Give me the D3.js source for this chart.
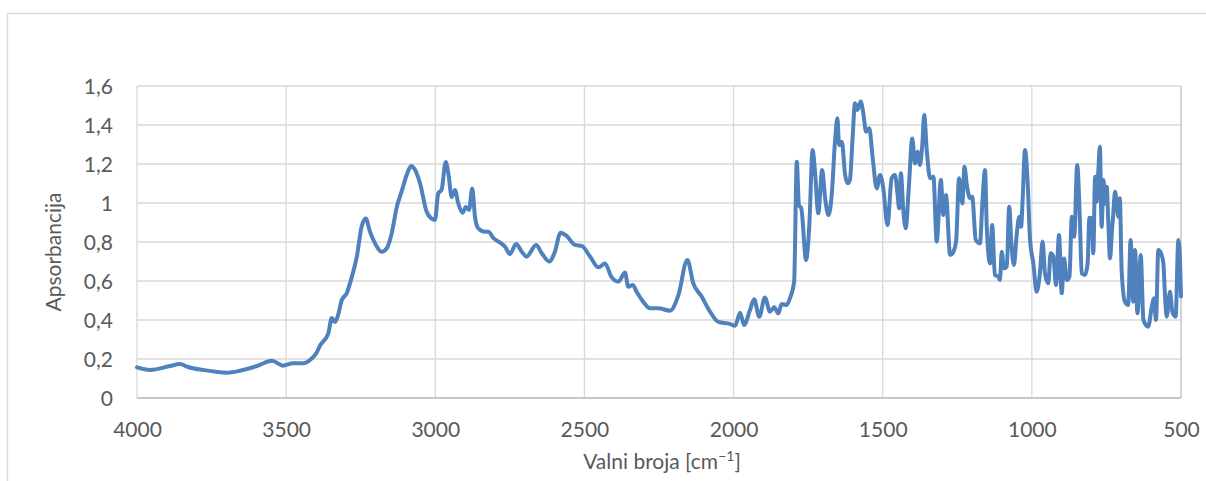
<!DOCTYPE html>
<html>
<head>
<meta charset="utf-8">
<script src="https://cdn.jsdelivr.net/npm/d3@7/dist/d3.min.js"></script>
<style>
  html, body { margin: 0; padding: 0; background: #fff; }
  svg { display: block; }
  text { font-family: Lato, "Open Sans", sans-serif; fill: #595959; }
</style>
</head>
<body>
<svg id="chart" width="1206" height="481"></svg>
<script>
// IR spectrum: wavenumber (cm-1) and absorbance
const wavenumbers = [
  4000, 3956, 3889, 3856, 3829, 3779, 3698, 3655, 3598, 3547, 3511, 3477, 3443, 3420, 3397, 3386,
  3359, 3347, 3336, 3325, 3314, 3297, 3280, 3263, 3247, 3233, 3219, 3202, 3180, 3163, 3146, 3129,
  3113, 3096, 3081, 3068, 3051, 3029, 3012, 3001, 2990, 2979, 2965, 2956, 2945, 2934, 2923, 2908,
  2898, 2887, 2876, 2867, 2856, 2833, 2822, 2805, 2783, 2766, 2750, 2729, 2710, 2694, 2662, 2643,
  2618, 2599, 2580, 2559, 2532, 2509, 2481, 2453, 2431, 2409, 2386, 2364, 2353, 2338, 2325, 2303,
  2280, 2252, 2213, 2185, 2155, 2135, 2107, 2079, 2051, 2012, 1995, 1978, 1965, 1945, 1931, 1914,
  1895, 1878, 1864, 1850, 1839, 1822, 1811, 1797, 1788, 1781, 1773, 1757, 1746, 1735, 1727, 1716,
  1703, 1693, 1682, 1671, 1660, 1652, 1646, 1637, 1626, 1617, 1610, 1601, 1593, 1585, 1574, 1565,
  1556, 1545, 1534, 1520, 1509, 1498, 1484, 1470, 1459, 1450, 1445, 1439, 1431, 1423, 1412, 1401,
  1392, 1383, 1375, 1367, 1361, 1352, 1341, 1330, 1319, 1305, 1297, 1288, 1274, 1263, 1254, 1244,
  1233, 1226, 1218, 1207, 1200, 1188, 1174, 1166, 1157, 1151, 1140, 1133, 1124, 1112, 1107, 1101,
  1093, 1084, 1076, 1068, 1060, 1051, 1042, 1036, 1031, 1023, 1015, 1006, 995, 984, 973, 964,
  956, 945, 937, 928, 919, 909, 900, 892, 883, 874, 866, 858, 848, 839, 833, 822,
  813, 807, 799, 794, 788, 783, 777, 772, 766, 760, 755, 749, 744, 738, 732, 727,
  721, 716, 710, 705, 699, 688, 677, 669, 660, 654, 646, 635, 626, 610, 598, 591,
  584, 576, 567, 559, 554, 548, 537, 529, 518, 509, 503, 500
];
const absorbance = [
  0.157, 0.144, 0.164, 0.174, 0.159, 0.144, 0.130, 0.140, 0.164, 0.191, 0.166, 0.178, 0.178, 0.195, 0.235, 0.270,
  0.330, 0.410, 0.390, 0.430, 0.500, 0.537, 0.620, 0.725, 0.878, 0.920, 0.853, 0.793, 0.750, 0.767, 0.845, 0.980,
  1.058, 1.144, 1.190, 1.170, 1.100, 0.955, 0.920, 0.913, 1.050, 1.067, 1.210, 1.150, 1.030, 1.067, 0.998, 0.950,
  0.980, 0.964, 1.075, 0.930, 0.870, 0.853, 0.853, 0.820, 0.797, 0.776, 0.738, 0.790, 0.750, 0.725, 0.785, 0.742,
  0.700, 0.750, 0.848, 0.830, 0.785, 0.780, 0.725, 0.670, 0.690, 0.620, 0.597, 0.643, 0.570, 0.580, 0.545, 0.494,
  0.460, 0.460, 0.448, 0.528, 0.708, 0.588, 0.520, 0.443, 0.390, 0.380, 0.370, 0.437, 0.374, 0.451, 0.506, 0.417,
  0.516, 0.443, 0.465, 0.434, 0.482, 0.477, 0.511, 0.596, 1.212, 0.990, 0.973, 0.708, 0.887, 1.272, 1.160, 0.947,
  1.169, 1.024, 0.938, 1.041, 1.314, 1.434, 1.297, 1.314, 1.144, 1.101, 1.118, 1.331, 1.511, 1.477, 1.520, 1.460,
  1.366, 1.383, 1.237, 1.075, 1.144, 1.075, 0.887, 1.127, 1.144, 1.041, 0.973, 1.152, 0.964, 0.870, 1.092, 1.331,
  1.203, 1.263, 1.195, 1.306, 1.451, 1.263, 1.127, 1.135, 0.802, 1.118, 0.938, 1.041, 0.733, 0.750, 0.802, 1.127,
  0.998, 1.186, 1.092, 1.024, 1.032, 0.810, 0.793, 0.998, 1.169, 0.870, 0.690, 0.887, 0.631, 0.622, 0.605, 0.750,
  0.665, 0.673, 0.981, 0.776, 0.682, 0.836, 0.930, 0.878, 1.015, 1.272, 1.135, 0.810, 0.690, 0.545, 0.639, 0.802,
  0.639, 0.588, 0.742, 0.725, 0.579, 0.836, 0.537, 0.716, 0.605, 0.622, 0.930, 0.827, 1.195, 0.913, 0.639, 0.631,
  0.690, 0.925, 0.921, 0.742, 1.135, 1.007, 1.169, 1.289, 0.878, 1.118, 0.998, 1.083, 0.913, 0.716, 0.845, 0.947,
  1.058, 0.998, 0.930, 1.024, 0.656, 0.494, 0.477, 0.810, 0.494, 0.759, 0.434, 0.733, 0.400, 0.366, 0.468, 0.511,
  0.400, 0.759, 0.742, 0.690, 0.537, 0.417, 0.545, 0.443, 0.417, 0.810, 0.690, 0.520
];

const xTicks = [4000, 3500, 3000, 2500, 2000, 1500, 1000, 500];
const yTicks = [0, 0.2, 0.4, 0.6, 0.8, 1.0, 1.2, 1.4, 1.6];
const yTickLabels = ["0", "0,2", "0,4", "0,6", "0,8", "1", "1,2", "1,4", "1,6"];

const svg = d3.select("#chart");
const margin = { left: 137, right: 25, top: 86, bottom: 83 };
const W = 1206, H = 481;
const plotW = W - margin.left - margin.right;
const plotH = H - margin.top - margin.bottom;

// outer chart frame
svg.append("rect")
  .attr("x", 7.5).attr("y", 13.5)
  .attr("width", 1200).attr("height", 480)
  .attr("fill", "#fff").attr("stroke", "#d9d9d9").attr("stroke-width", 1.3);

const g = svg.append("g").attr("transform", `translate(${margin.left},${margin.top})`);

const x = d3.scaleLinear().domain([4000, 500]).range([0, plotW]);
const y = d3.scaleLinear().domain([0, 1.6]).range([plotH, 0]);

// gridlines
g.append("g").selectAll("line.h").data(yTicks).join("line")
  .attr("x1", 0).attr("x2", plotW)
  .attr("y1", d => y(d)).attr("y2", d => y(d))
  .attr("stroke", "#d9d9d9").attr("stroke-width", 1.3);
g.append("g").selectAll("line.v").data(xTicks).join("line")
  .attr("x1", d => x(d)).attr("x2", d => x(d))
  .attr("y1", 0).attr("y2", plotH)
  .attr("stroke", d => d === 500 ? "#bfbfbf" : "#d9d9d9").attr("stroke-width", 1.3);

// bottom axis line
g.append("line").attr("x1", 0).attr("x2", plotW).attr("y1", plotH).attr("y2", plotH)
  .attr("stroke", "#bfbfbf").attr("stroke-width", 1.3);

// axes (labels only)
const xAxis = d3.axisBottom(x).tickValues(xTicks).tickSize(0).tickPadding(0).tickFormat(d3.format("d"));
const xg = g.append("g").attr("transform", `translate(0,${plotH})`).call(xAxis);
xg.select(".domain").remove();
xg.selectAll("text").attr("dy", null).attr("y", 39)
  .style("font-size", "21px").style("fill", "#595959").style("font-family", "Lato, sans-serif");

const yAxis = d3.axisLeft(y).tickValues(yTicks).tickSize(0).tickPadding(24)
  .tickFormat((d, i) => yTickLabels[i]);
const yg = g.append("g").call(yAxis);
yg.select(".domain").remove();
yg.selectAll("text").attr("dy", "0.35em")
  .style("font-size", "21px").style("fill", "#595959").style("font-family", "Lato, sans-serif");

// spectrum line
const pts = wavenumbers.map((w, i) => [w, absorbance[i]]);
const line = d3.line().x(d => x(d[0])).y(d => y(d[1])).curve(d3.curveMonotoneX);
g.append("path").datum(pts)
  .attr("d", line)
  .attr("fill", "none")
  .attr("stroke", "#4f81bd")
  .attr("stroke-width", 4)
  .attr("stroke-linejoin", "round")
  .attr("stroke-linecap", "round");

// axis titles
svg.append("text")
  .attr("transform", "translate(61,252) rotate(-90)")
  .attr("text-anchor", "middle")
  .style("font-size", "21px")
  .text("Apsorbancija");

const xt = svg.append("text")
  .attr("x", 662).attr("y", 469)
  .attr("text-anchor", "middle")
  .style("font-size", "21px");
xt.append("tspan").text("Valni broja [cm");
xt.append("tspan").attr("dy", -8).style("font-size", "14px").text("−1");
xt.append("tspan").attr("dy", 8).text("]");
</script>
</body>
</html>
